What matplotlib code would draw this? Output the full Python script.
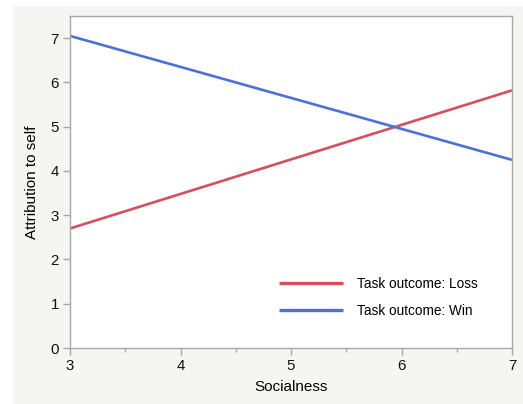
import matplotlib
matplotlib.use("Agg")
import matplotlib.pyplot as plt
from matplotlib.patches import Rectangle
from matplotlib.ticker import MultipleLocator

plt.rcParams['font.family'] = ['Liberation Sans', 'DejaVu Sans']

socialness = [3, 7]
loss = [2.70, 5.82]
win = [7.05, 4.25]
series_labels = ["Task outcome: Loss", "Task outcome: Win"]
xticks = [3, 4, 5, 6, 7]
yticks = [0, 1, 2, 3, 4, 5, 6, 7]

fig = plt.figure(figsize=(5.23, 4.04), dpi=100)
fig.patch.set_facecolor('white')
bg = Rectangle((13/523, 0), 1 - 13/523, 1 - 6/404, transform=fig.transFigure,
               facecolor='#f5f5f1', edgecolor='none', zorder=-10)
fig.add_artist(bg)

ax = fig.add_axes([70/523, 56/404, 442/523, 332/404])
ax.set_zorder(1)
ax.set_facecolor('white')
ax.plot(socialness, loss, color='#d64f5b', lw=1.9, label=series_labels[0], solid_capstyle='butt')
ax.plot(socialness, win, color='#4a72df', lw=1.9, label=series_labels[1], solid_capstyle='butt')

ax.set_xlim(3, 7)
ax.set_ylim(0, 7.5)
ax.set_xticks(xticks)
ax.set_yticks(yticks)
ax.xaxis.set_minor_locator(MultipleLocator(0.5))
for s in ax.spines.values():
    s.set_color('#a8a8a8')
    s.set_linewidth(1.0)
ax.tick_params(axis='both', which='major', direction='out', length=5, width=1,
               color='#a8a8a8', labelsize=10.8, labelcolor='#111111', pad=3)
ax.tick_params(axis='x', which='minor', direction='out', length=3, width=1, color='#a8a8a8')
ax.set_xlabel('Socialness', fontsize=11, labelpad=5)
ax.set_ylabel('Attribution to self', fontsize=11, labelpad=8)

leg = ax.legend(loc='upper left', bbox_to_anchor=(209/442, (348-277)/332), frameon=False,
                fontsize=9.8, handlelength=4.7, handletextpad=1.05, labelspacing=0.95,
                borderpad=0, borderaxespad=0)
for line in leg.get_lines():
    line.set_linewidth(2.4)

fig.savefig('out.png', dpi=100, facecolor=fig.get_facecolor())
